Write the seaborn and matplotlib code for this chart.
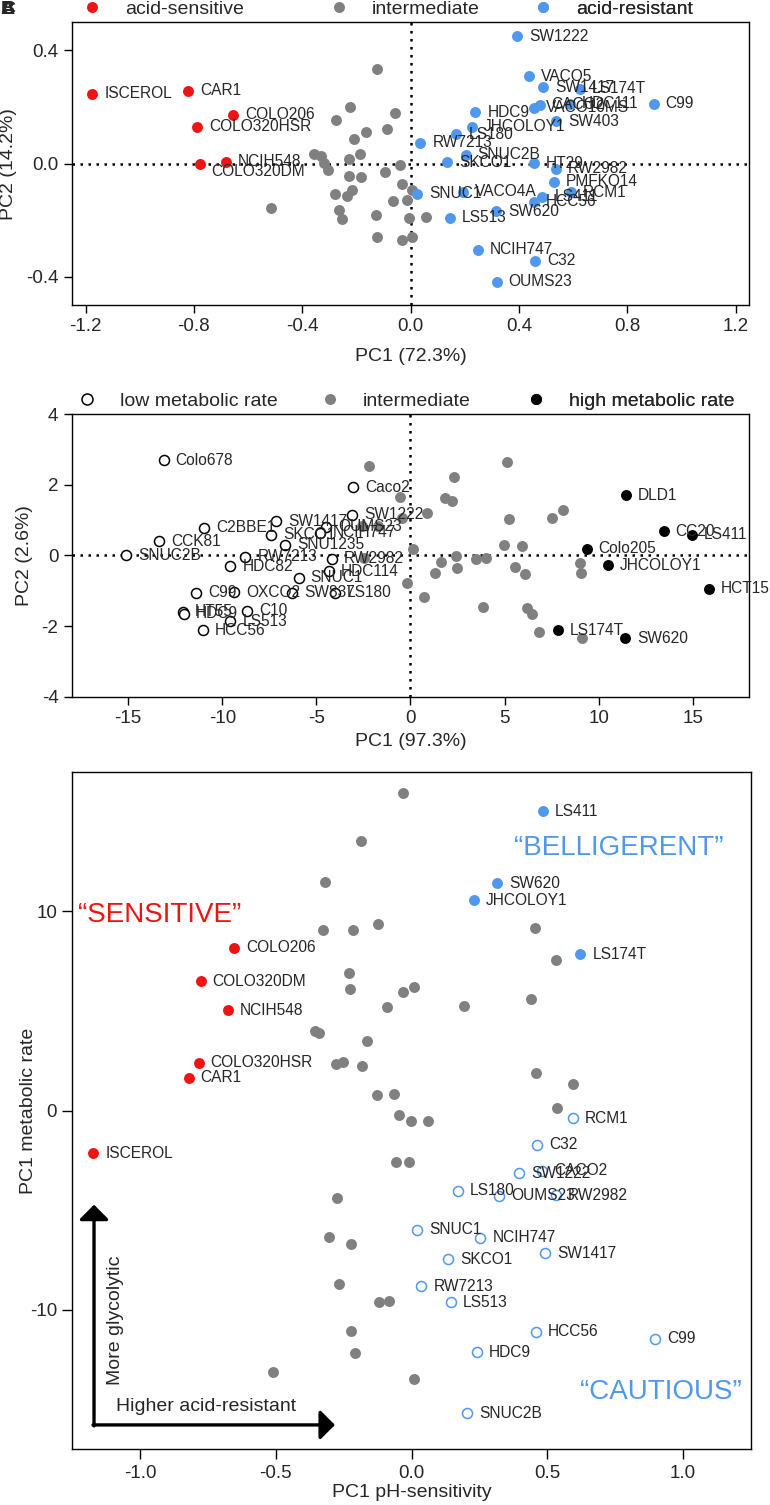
"""Three-panel PCA scatter of colorectal cell lines."""

import matplotlib
matplotlib.use('Agg')
import matplotlib.pyplot as plt
from matplotlib.lines import Line2D
from matplotlib.ticker import FormatStrFormatter
import seaborn as sns
import pandas as pd

RED = '#ed1414'
BLUE = '#4f98ee'
GRAY = '#808080'

# ---------------- Panel A: pH-sensitivity PCA ----------------
a_sens_names = ['ISCEROL', 'CAR1', 'COLO206', 'COLO320HSR', 'COLO320DM', 'NCIH548']
a_sens_pc1 = [-1.175, -0.822, -0.654, -0.788, -0.779, -0.682]
a_sens_pc2 = [0.247, 0.258, 0.173, 0.131, 0.000, 0.006]

a_mid_pc1 = [-0.126, -0.225, -0.277, -0.059, -0.166, -0.086, -0.210, -0.188, -0.228,
             -0.357, -0.330, -0.318, -0.305, -0.041, -0.093, -0.228, -0.185, -0.031,
             0.006, -0.215, -0.235, -0.278, -0.065, -0.012, -0.514, -0.266, -0.255,
             -0.128, -0.005, 0.058, -0.126, -0.031, 0.006]
a_mid_pc2 = [0.333, 0.201, 0.155, 0.178, 0.111, 0.121, 0.087, 0.035, 0.018,
             0.034, 0.028, 0.002, -0.024, -0.004, -0.028, -0.045, -0.048, -0.071,
             -0.092, -0.095, -0.116, -0.106, -0.131, -0.127, -0.158, -0.163, -0.195,
             -0.183, -0.192, -0.189, -0.261, -0.269, -0.261]

a_res_names = ['SW1222', 'VACO5', 'SW1417', 'LS174T', 'C99', 'VACO10MS', 'CACO2',
               'HDC111', 'HDC9', 'JHCOLOY1', 'LS180', 'RW7213', 'SW403', 'SNUC2B',
               'SKCO1', 'HT29', 'RW2982', 'PMFKO14', 'RCM1', 'LS411', 'HCC56',
               'SNUC1', 'VACO4A', 'SW620', 'LS513', 'NCIH747', 'C32', 'OUMS23']
a_res_pc1 = [0.394, 0.438, 0.490, 0.624, 0.897, 0.455, 0.476,
             0.587, 0.239, 0.226, 0.169, 0.036, 0.538, 0.203,
             0.136, 0.454, 0.535, 0.528, 0.592, 0.486, 0.455,
             0.025, 0.193, 0.315, 0.144, 0.249, 0.459, 0.318]
a_res_pc2 = [0.450, 0.309, 0.270, 0.264, 0.212, 0.197, 0.208,
             0.212, 0.182, 0.131, 0.104, 0.073, 0.149, 0.032,
             0.004, 0.002, -0.019, -0.065, -0.102, -0.118, -0.135,
             -0.106, -0.100, -0.169, -0.192, -0.304, -0.343, -0.417]

# ---------------- Panel B: metabolic-rate PCA ----------------
b_low_names = ['Colo678', 'Caco2', 'SW1222', 'SW1417', 'C2BBE1', 'OUMS23', 'NCIH747',
               'SKCO1', 'SNU1235', 'CCK81', 'SNUC2B', 'RW7213', 'RW2982', 'HDC82',
               'HDC114', 'SNUC1', 'C99', 'OXCO2', 'SW837', 'LS180', 'HT55', 'HDC9',
               'C10', 'LS513', 'HCC56']
b_low_pc1 = [-13.11, -3.03, -3.11, -7.13, -10.95, -4.47, -4.79,
             -7.41, -6.65, -13.34, -15.09, -8.77, -4.17, -9.57,
             -4.35, -5.94, -11.37, -9.38, -6.29, -4.00, -12.08, -12.05,
             -8.68, -9.57, -11.02]
b_low_pc2 = [2.70, 1.94, 1.15, 0.97, 0.78, 0.82, 0.64,
             0.59, 0.31, 0.40, 0.00, -0.04, -0.09, -0.30,
             -0.44, -0.63, -1.05, -1.04, -1.05, -1.05, -1.59, -1.65,
             -1.57, -1.86, -2.12]

b_mid_pc1 = [5.15, 2.32, 1.84, 2.20, 0.87, -0.58, -0.46, 5.25, 7.51, 8.12,
             4.99, 5.91, 0.11, 2.41, 1.63, 2.46, 3.47, 4.00, 1.31, 5.56,
             6.09, -0.19, 0.74, 3.87, 6.21, 6.44, 9.01, 9.04, 6.85, 9.13,
             -2.18, -2.58, -1.70, -2.49]
b_mid_pc2 = [2.66, 2.22, 1.63, 1.53, 1.21, 1.65, 1.06, 1.04, 1.05, 1.28,
             0.31, 0.26, 0.17, -0.02, -0.18, -0.35, -0.11, -0.06, -0.49, -0.33,
             -0.52, -0.77, -1.19, -1.45, -1.48, -1.67, -0.21, -0.51, -2.18, -2.34,
             2.54, 0.83, 0.83, -0.07]

b_high_names = ['DLD1', 'CC20', 'LS411', 'Colo205', 'JHCOLOY1', 'HCT15', 'LS174T', 'SW620']
b_high_pc1 = [11.43, 13.45, 14.94, 9.36, 10.48, 15.85, 7.82, 11.40]
b_high_pc2 = [1.70, 0.69, 0.59, 0.19, -0.28, -0.94, -2.12, -2.34]

# ---------------- Panel C: pH-sensitivity vs metabolic rate ----------------
c_sens_names = ['ISCEROL', 'CAR1', 'COLO320HSR', 'NCIH548', 'COLO320DM', 'COLO206']
c_sens_ph = [-1.173, -0.821, -0.785, -0.678, -0.777, -0.654]
c_sens_met = [-2.15, 1.65, 2.41, 5.04, 6.50, 8.18]

c_bell_names = ['LS411', 'SW620', 'JHCOLOY1', 'LS174T']
c_bell_ph = [0.484, 0.316, 0.228, 0.622]
c_bell_met = [15.01, 11.41, 10.54, 7.85]

c_caut_names = ['RCM1', 'C32', 'SW1222', 'CACO2', 'LS180', 'OUMS23', 'RW2982',
                'SNUC1', 'NCIH747', 'SW1417', 'SKCO1', 'RW7213', 'LS513', 'HCC56',
                'C99', 'HDC9', 'SNUC2B']
c_caut_ph = [0.593, 0.462, 0.397, 0.480, 0.169, 0.323, 0.532,
             0.020, 0.253, 0.491, 0.135, 0.036, 0.146, 0.458,
             0.896, 0.241, 0.205]
c_caut_met = [-0.39, -1.71, -3.14, -3.03, -4.02, -4.27, -4.24,
              -5.99, -6.39, -7.16, -7.45, -8.82, -9.63, -11.09,
              -11.45, -12.14, -15.18]

c_mid_ph = [-0.030, -0.188, -0.319, -0.328, -0.215, -0.125, 0.456, -0.232, -0.227,
            -0.030, 0.007, -0.092, 0.194, 0.438, 0.531, -0.356, -0.340, -0.165,
            -0.279, -0.254, -0.184, 0.458, 0.595, 0.537, -0.126, -0.065, -0.045,
            -0.003, 0.060, -0.057, -0.009, -0.274, -0.304, -0.224, -0.266, -0.122,
            -0.083, -0.224, -0.207, -0.512, 0.008]
c_mid_met = [15.95, 13.53, 11.48, 9.04, 9.08, 9.38, 9.16, 6.89, 6.10,
             5.93, 6.22, 5.18, 5.26, 5.60, 7.56, 4.00, 3.87, 3.48,
             2.32, 2.44, 2.22, 1.88, 1.31, 0.13, 0.76, 0.84, -0.20,
             -0.55, -0.54, -2.56, -2.56, -4.39, -6.35, -6.71, -8.72, -9.60,
             -9.55, -11.04, -12.15, -13.13, -13.45]


def draw_group(ax, xs, ys, color='k', open_marker=False, size=62):
    df = pd.DataFrame({'x': xs, 'y': ys})
    if open_marker:
        sns.scatterplot(data=df, x='x', y='y', ax=ax, s=size, color=color,
                        facecolor='white', edgecolor=color, linewidth=1.1,
                        legend=False, zorder=3)
    else:
        sns.scatterplot(data=df, x='x', y='y', ax=ax, s=size, color=color,
                        linewidth=0, legend=False, zorder=3)


def label_points(ax, xs, ys, names, offsets=None):
    offsets = offsets or {}
    for x, y, n in zip(xs, ys, names):
        dx, dy = offsets.get(n, (8.6, 0))
        ax.annotate(n, (x, y), xytext=(dx, dy), textcoords='offset points',
                    ha='left', va='center', fontsize=11.2, zorder=4)


def style_axis(ax, xlim, ylim, xticks, yticks, xfmt, yfmt,
               xlabel, ylabel, xlab_y, ylab_x, ticklen):
    ax.set_xlim(xlim)
    ax.set_ylim(ylim)
    ax.set_xticks(xticks)
    ax.set_yticks(yticks)
    ax.xaxis.set_major_formatter(FormatStrFormatter(xfmt))
    ax.yaxis.set_major_formatter(FormatStrFormatter(yfmt))
    ax.tick_params(labelsize=13.5, length=ticklen, width=1.0, color='k',
                   direction='out')
    for sp in ax.spines.values():
        sp.set_visible(True)
        sp.set_linewidth(1.0)
        sp.set_color('k')
    ax.set_xlabel(xlabel, fontsize=14)
    ax.set_ylabel(ylabel, fontsize=14)
    ax.xaxis.set_label_coords(0.5, xlab_y)
    ax.yaxis.set_label_coords(ylab_x, 0.5)


def top_legend(ax, entries, xs_frac, y_frac):
    # one single-entry legend per column so each sits where the original does
    for (text, face, edge), xf in zip(entries, xs_frac):
        h = Line2D([], [], ls='', marker='o', markersize=7.9,
                   markerfacecolor=face, markeredgecolor=edge,
                   markeredgewidth=1.1 if face == 'white' else 0)
        leg = ax.legend([h], [text], loc='lower left', bbox_to_anchor=(xf, y_frac),
                        frameon=False, borderpad=0, borderaxespad=0,
                        handlelength=1.0, handletextpad=1.2, fontsize=14)
        ax.add_artist(leg)


sns.set_style('ticks')
plt.rcParams['font.family'] = ['Liberation Sans', 'DejaVu Sans']
plt.rcParams['axes.unicode_minus'] = False

fig = plt.figure(figsize=(7.7, 15.05), dpi=100)
ax_a = fig.add_axes([0.0935, 0.7973, 0.8796, 0.1880])
ax_b = fig.add_axes([0.0931, 0.5371, 0.8800, 0.1876])
ax_c = fig.add_axes([0.0939, 0.0370, 0.8814, 0.4502])

dotted = dict(color='k', lw=1.8, ls=(0, (1, 2.2)), zorder=1)

# Panel A
ax_a.axhline(0, **dotted)
ax_a.axvline(0, **dotted)
draw_group(ax_a, a_sens_pc1, a_sens_pc2, RED)
draw_group(ax_a, a_mid_pc1, a_mid_pc2, GRAY)
draw_group(ax_a, a_res_pc1, a_res_pc2, BLUE)
label_points(ax_a, a_sens_pc1, a_sens_pc2, a_sens_names,
             offsets={'COLO320DM': (8.6, -5.8)})
label_points(ax_a, a_res_pc1, a_res_pc2, a_res_names)
style_axis(ax_a, (-1.25, 1.25), (-0.5, 0.5), [-1.2, -0.8, -0.4, 0, 0.4, 0.8, 1.2],
           [-0.4, 0, 0.4], '%.1f', '%.1f', 'PC1 (72.3%)', 'PC2 (14.2%)',
           -0.152, -0.0816, 6)
top_legend(ax_a, [('acid-sensitive', RED, RED), ('intermediate', GRAY, GRAY),
                  ('acid-resistant', BLUE, BLUE)],
           [0.0152, 0.3799, 0.6807], 1.015)

# Panel B
ax_b.axhline(0, **dotted)
ax_b.axvline(0, **dotted)
draw_group(ax_b, b_low_pc1, b_low_pc2, 'k', open_marker=True, size=52)
draw_group(ax_b, b_mid_pc1, b_mid_pc2, GRAY)
draw_group(ax_b, b_high_pc1, b_high_pc2, 'k')
label_points(ax_b, b_low_pc1, b_low_pc2, b_low_names)
label_points(ax_b, b_high_pc1, b_high_pc2, b_high_names)
style_axis(ax_b, (-18, 18), (-4, 4), [-15, -10, -5, 0, 5, 10, 15],
           [-4, -2, 0, 2, 4], '%d', '%d', 'PC1 (97.3%)', 'PC2 (2.6%)',
           -0.127, -0.0567, 6)
top_legend(ax_b, [('low metabolic rate', 'white', 'k'), ('intermediate', GRAY, GRAY),
                  ('high metabolic rate', 'k', 'k')],
           [0.0087, 0.3669, 0.6709], 1.016)

# Panel C
draw_group(ax_c, c_mid_ph, c_mid_met, GRAY)
draw_group(ax_c, c_sens_ph, c_sens_met, RED)
draw_group(ax_c, c_bell_ph, c_bell_met, BLUE)
draw_group(ax_c, c_caut_ph, c_caut_met, BLUE, open_marker=True, size=52)
label_points(ax_c, c_sens_ph, c_sens_met, c_sens_names)
label_points(ax_c, c_bell_ph, c_bell_met, c_bell_names)
label_points(ax_c, c_caut_ph, c_caut_met, c_caut_names)
style_axis(ax_c, (-1.25, 1.25), (-17, 17), [-1.0, -0.5, 0, 0.5, 1.0],
           [-10, 0, 10], '%.1f', '%d', 'PC1 pH-sensitivity', 'PC1 metabolic rate',
           -0.0505, -0.0513, 7.5)

ax_c.text(0.008, 0.789, '\u201cSENSITIVE\u201d', color=RED, fontsize=20,
          ha='left', va='center', transform=ax_c.transAxes)
ax_c.text(0.959, 0.887, '\u201cBELLIGERENT\u201d', color=BLUE, fontsize=20,
          ha='right', va='center', transform=ax_c.transAxes)
ax_c.text(0.986, 0.085, '\u201cCAUTIOUS\u201d', color=BLUE, fontsize=20,
          ha='right', va='center', transform=ax_c.transAxes)

arrow = dict(arrowstyle='-|>,head_length=0.45,head_width=0.45', mutation_scale=20,
             lw=2.4, color='k', shrinkA=0, shrinkB=0)
ax_c.annotate('', xy=(0.032, 0.361), xytext=(0.032, 0.0345),
              xycoords='axes fraction', arrowprops=arrow)
ax_c.annotate('', xy=(0.387, 0.036), xytext=(0.0305, 0.036),
              xycoords='axes fraction', arrowprops=arrow)
ax_c.text(0.063, 0.191, 'More glycolytic', rotation=90, fontsize=14,
          ha='center', va='center', transform=ax_c.transAxes)
ax_c.text(0.0645, 0.063, 'Higher acid-resistant', fontsize=14,
          ha='left', va='center', transform=ax_c.transAxes)

# overlapping panel letters in the corner
for letter in ['A', 'B', 'C']:
    fig.text(0.001, 0.9995, letter, fontsize=14, fontweight='bold',
             ha='left', va='top')

fig.savefig('out.png', dpi=100, facecolor='white')
plt.close(fig)
